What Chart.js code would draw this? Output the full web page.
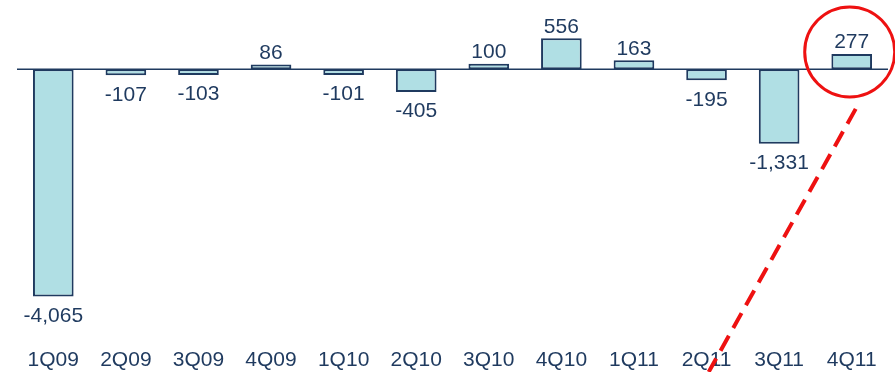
<!DOCTYPE html>
<html>
<head>
<meta charset="utf-8">
<script src="https://cdn.jsdelivr.net/npm/chart.js@4"></script>
<style>
  html, body { margin: 0; padding: 0; background: #ffffff; }
  #wrap { width: 895px; height: 372px; }
</style>
</head>
<body>
<div id="wrap"><canvas id="c" width="895" height="372"></canvas></div>
<script>
// Quarterly values
const quarters = ['1Q09','2Q09','3Q09','4Q09','1Q10','2Q10','3Q10','4Q10','1Q11','2Q11','3Q11','4Q11'];
const values   = [-4065, -107, -103, 86, -101, -405, 100, 556, 163, -195, -1331, 277];
const highlightIndex = 11;

const NAVY = '#1f3a5f';
const FILL = '#b0dfe4';
const FONT = '"Liberation Sans", Arial, sans-serif';

const fmt = v => v.toLocaleString('en-US');

// Zero baseline, value labels and the highlight callout
const overlay = {
  id: 'overlay',
  afterDatasetsDraw(chart) {
    const { ctx, chartArea, scales } = chart;
    const y0 = scales.y.getPixelForValue(0);
    ctx.save();
    ctx.strokeStyle = NAVY;
    ctx.lineWidth = 1.5;
    ctx.beginPath();
    ctx.moveTo(chartArea.left, y0);
    ctx.lineTo(chartArea.right, y0);
    ctx.stroke();

    ctx.fillStyle = NAVY;
    ctx.font = '21px ' + FONT;
    ctx.textAlign = 'center';
    const meta = chart.getDatasetMeta(0);
    meta.data.forEach((bar, i) => {
      const v = values[i];
      if (v >= 0) {
        ctx.textBaseline = 'bottom';
        ctx.fillText(fmt(v), bar.x, bar.y - 1);
      } else {
        ctx.textBaseline = 'top';
        ctx.fillText(fmt(v), bar.x, bar.y + 9);
      }
    });

    // callout around the last quarter
    const hb = meta.data[highlightIndex];
    const cx = hb.x - 2, cy = hb.y - 2;
    ctx.strokeStyle = '#ee1111';
    ctx.lineWidth = 3;
    ctx.beginPath();
    ctx.ellipse(cx, cy, 45, 45, 0, 0, Math.PI * 2);
    ctx.stroke();

    ctx.lineWidth = 4;
    ctx.setLineDash([17, 9]);
    ctx.beginPath();
    ctx.moveTo(cx + 6, cy + 57);
    ctx.lineTo(cx - 141, cy + 320);
    ctx.stroke();
    ctx.restore();
  }
};

new Chart(document.getElementById('c'), {
  type: 'bar',
  data: {
    labels: quarters,
    datasets: [{
      data: values,
      backgroundColor: FILL,
      borderColor: NAVY,
      borderWidth: 2,
      borderSkipped: false,
      barPercentage: 0.56,
      categoryPercentage: 1.0
    }]
  },
  options: {
    responsive: false,
    animation: false,
    layout: { padding: { left: 17, right: 7, top: 0, bottom: -5 } },
    plugins: { legend: { display: false }, tooltip: { enabled: false } },
    scales: {
      x: {
        grid: { display: false, drawTicks: false },
        border: { display: false },
        ticks: { color: NAVY, font: { family: FONT, size: 21 }, padding: 4, maxRotation: 0 }
      },
      y: {
        display: false,
        min: -4910,
        max: 1241
      }
    }
  },
  plugins: [overlay]
});
</script>
</body>
</html>
